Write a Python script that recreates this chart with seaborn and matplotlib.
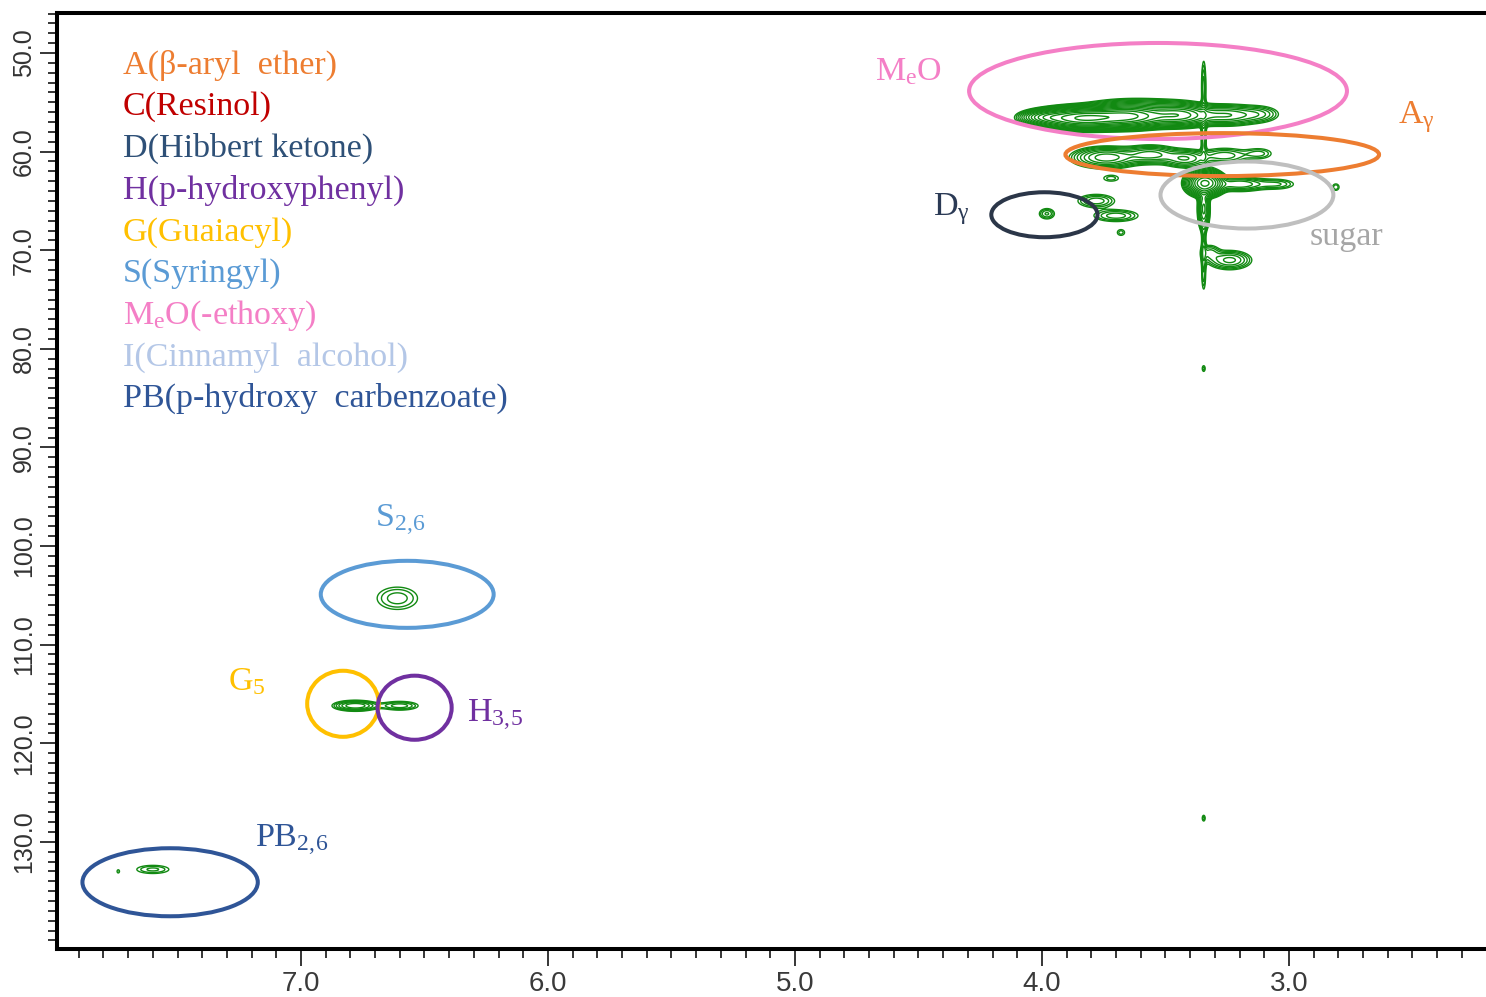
import numpy as np
import matplotlib
matplotlib.use("Agg")
import matplotlib.pyplot as plt
from matplotlib.patches import Ellipse
from matplotlib.ticker import FixedLocator, MultipleLocator, NullFormatter
import seaborn as sns

# ---- HSQC cross peaks: 1H shift (ppm), 13C shift (ppm), intensity, line widths (ppm)
peak_h = [3.83, 3.65, 3.98, 3.45, 3.25, 3.12, 3.60,
          3.74, 3.56, 3.42, 3.26, 3.12,
          3.34, 3.20, 3.05, 3.345, 2.81,
          3.345, 3.345, 3.345, 3.345, 3.345, 3.345,
          3.98, 3.78, 3.70, 3.68, 3.72,
          3.24, 3.32,
          6.61, 6.78, 6.60, 7.60, 7.74]
peak_c = [56.6, 56.4, 56.5, 56.3, 56.3, 56.2, 55.2,
          60.6, 60.3, 60.7, 60.4, 60.2,
          63.2, 63.3, 63.3, 65.8, 63.6,
          53.5, 58.5, 69.5, 72.5, 82.0, 127.6,
          66.3, 65.0, 66.5, 68.2, 62.7,
          71.0, 70.2,
          105.3, 116.2, 116.2, 132.8, 133.0]
peak_amp = [70, 50, 15, 25, 8, 3, 2.5,
            10, 7, 6, 3, 2,
            40, 6, 2.5, 12, 1.8,
            3, 3, 2.5, 2.0, 1.6, 1.6,
            2.6, 3, 3, 1.6, 1.6,
            5, 2.5,
            2.2, 6, 3, 2.0, 1.3]
peak_wh = [0.09, 0.08, 0.05, 0.07, 0.07, 0.05, 0.12,
           0.07, 0.06, 0.05, 0.06, 0.04,
           0.035, 0.06, 0.05, 0.012, 0.012,
           0.006, 0.007, 0.006, 0.006, 0.006, 0.006,
           0.022, 0.05, 0.06, 0.015, 0.03,
           0.05, 0.025,
           0.065, 0.05, 0.05, 0.055, 0.006]
peak_wc = [0.5, 0.55, 0.35, 0.55, 0.55, 0.5, 0.4,
           0.55, 0.5, 0.5, 0.5, 0.4,
           0.6, 0.4, 0.35, 1.1, 0.3,
           1.8, 1.5, 1.5, 1.2, 0.3, 0.3,
           0.38, 0.45, 0.4, 0.3, 0.3,
           0.55, 0.5,
           0.9, 0.3, 0.3, 0.35, 0.2]

# ---- assignment regions (ellipses) and their labels
region_h = [3.53, 3.27, 3.17, 3.99, 6.57, 6.83, 6.54, 7.53]
region_c = [53.85, 60.3, 64.4, 66.4, 104.9, 116.0, 116.4, 134.1]
region_w = [1.53, 1.27, 0.70, 0.43, 0.70, 0.29, 0.30, 0.71]
region_hgt = [9.74, 4.36, 6.8, 4.56, 6.8, 6.7, 6.5, 6.9]
region_col = ["#f47fc6", "#ed7d31", "#bfbfbf", "#2b3648",
              "#5b9bd5", "#ffc000", "#7030a0", "#2f5597"]

label_txt = [r"M$\mathregular{_e}$O", r"A$\mathregular{_γ}$", "sugar",
             r"D$\mathregular{_γ}$", r"S$\mathregular{_{2,\!6}}$",
             r"G$\mathregular{_5}$", r"H$\mathregular{_{3,\!5}}$",
             r"PB$\mathregular{_{2,\!6}}$"]
label_h = [4.676, 2.559, 2.915, 4.441, 6.700, 7.296, 6.328, 7.186]
label_c = [52.74, 57.10, 69.47, 66.43, 98.07, 114.6, 117.85, 130.53]
label_col = ["#f47fc6", "#ed7d31", "#a6a6a6", "#2b3a55",
             "#5b9bd5", "#ffc000", "#7030a0", "#2f5597"]

# ---- substructure key
key_txt = ["A(β-aryl  ether)", "C(Resinol)", "D(Hibbert ketone)",
           "H(p-hydroxyphenyl)", "G(Guaiacyl)", "S(Syringyl)",
           r"M$\mathregular{_e}$O(-ethoxy)", "I(Cinnamyl  alcohol)",
           "PB(p-hydroxy  carbenzoate)"]
key_col = ["#ed7d31", "#c00000", "#2e5077", "#7030a0", "#ffc000",
           "#5b9bd5", "#f47fc6", "#b4c7e7", "#2f5597"]

x_major = [3.0, 4.0, 5.0, 6.0, 7.0, 8.0]
x_labels = ["3.0", "4.0", "5.0", "6.0", "7.0", ""]
y_major = [50.0, 60.0, 70.0, 80.0, 90.0, 100.0, 110.0, 120.0, 130.0]
y_labels = ["50.0", "60.0", "70.0", "80.0", "90.0", "100.0", "110.0",
            "120.0", "130.0"]
h_lim = (7.988, 2.202)
c_lim = (140.87, 45.94)

sns.set_theme(style="white")
plt.rcParams["font.family"] = ["Liberation Serif", "DejaVu Serif"]
plt.rcParams["mathtext.fontset"] = "custom"
plt.rcParams["mathtext.rm"] = "Liberation Serif"
plt.rcParams["mathtext.it"] = "Liberation Serif:italic"

fig = plt.figure(figsize=(14.86, 9.97), dpi=100)
ax = fig.add_axes([57 / 1486, 1 - 949 / 997, 1 - 57 / 1486, (949 - 13) / 997])

# spectrum surface built from the peak list
h = np.linspace(h_lim[1], h_lim[0], 3000)
c = np.linspace(c_lim[1], c_lim[0], 2000)
Z = np.zeros((c.size, h.size))
for h0, c0, a, wh, wc in zip(peak_h, peak_c, peak_amp, peak_wh, peak_wc):
    gx = np.exp(-0.5 * ((h - h0) / wh) ** 2)
    gy = np.exp(-0.5 * ((c - c0) / wc) ** 2)
    Z += a * np.outer(gy, gx)

levels = 1.0 * 1.35 ** np.arange(18)
ax.contour(h, c, Z, levels=levels, colors="#128a12", linewidths=1.0)

for x0, y0, w, hh, col in zip(region_h, region_c, region_w, region_hgt, region_col):
    ax.add_patch(Ellipse((x0, y0), w, hh, fill=False, edgecolor=col,
                         linewidth=2.9, zorder=3))

for t, x0, y0, col in zip(label_txt, label_h, label_c, label_col):
    ax.text(x0, y0, t, color=col, fontsize=24.5, ha="left", va="baseline",
            zorder=4)

for i, (t, col) in enumerate(zip(key_txt, key_col)):
    yb = 73.5 + 41.7 * i
    ax.text((123 - 57) / (1486 - 57), (949 - yb) / (949 - 13), t, color=col,
            fontsize=24.5, ha="left", va="baseline", transform=ax.transAxes)

ax.set_xlim(*h_lim)
ax.set_ylim(*c_lim)

ax.xaxis.set_major_locator(FixedLocator(x_major))
ax.set_xticklabels(x_labels)
ax.xaxis.set_minor_locator(MultipleLocator(0.1))
ax.yaxis.set_major_locator(FixedLocator(y_major))
ax.set_yticklabels(y_labels)
ax.yaxis.set_minor_locator(MultipleLocator(1.0))
ax.xaxis.set_minor_formatter(NullFormatter())
ax.yaxis.set_minor_formatter(NullFormatter())

ax.tick_params(axis="both", which="major", direction="out", length=12,
               width=1.1, color="black", bottom=True, left=True)
ax.tick_params(axis="both", which="minor", direction="out", length=6.5,
               width=1.1, color="black", bottom=True, left=True)
ax.tick_params(axis="x", which="major", pad=4)
ax.tick_params(axis="y", which="major", pad=3)

for lab in ax.get_xticklabels():
    lab.set_family(["Liberation Sans Narrow", "Liberation Sans"])
    lab.set_fontsize(20)
    lab.set_color("#3a3a3a")
for lab in ax.get_yticklabels():
    lab.set_family(["Liberation Sans Narrow", "Liberation Sans"])
    lab.set_fontsize(18)
    lab.set_color("#333333")
    lab.set_rotation(90)
    lab.set_va("center")

for side in ("top", "left", "bottom"):
    ax.spines[side].set_linewidth(2.9)
    ax.spines[side].set_color("black")
ax.spines["right"].set_visible(False)
ax.grid(False)

fig.savefig("out.png", dpi=100)
